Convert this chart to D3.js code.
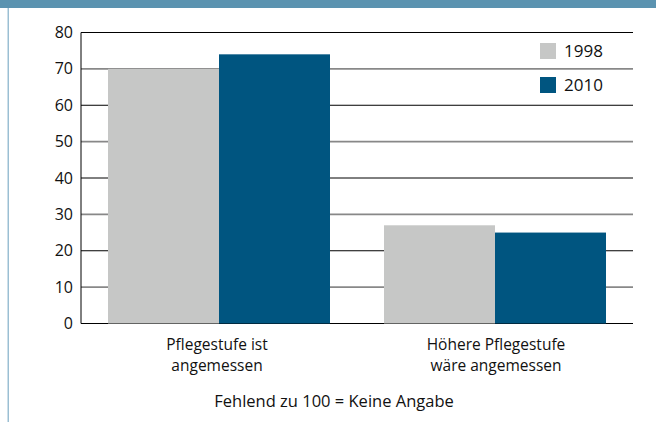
<!DOCTYPE html>
<html>
<head>
<meta charset="utf-8">
<script src="https://cdn.jsdelivr.net/npm/d3@7"></script>
<style>
  body { margin: 0; background: #fff; }
  svg { display: block; font-family: "Open Sans", "Noto Sans", sans-serif; }
</style>
</head>
<body>
<div id="chart"></div>
<script>
const categories = [["Pflegestufe ist", "angemessen"], ["Höhere Pflegestufe", "wäre angemessen"]];
const seriesNames = ["1998", "2010"];
const values1998 = [70, 27];
const values2010 = [74, 25];
const yTicks = [0, 10, 20, 30, 40, 50, 60, 70, 80];
const footnote = "Fehlend zu 100 = Keine Angabe";

const W = 656, H = 422;
const margin = { left: 81, right: 23, top: 32.5, bottom: 98.5 };
const colors = ["#c6c7c6", "#005580"];

const svg = d3.select("#chart").append("svg")
  .attr("width", W)
  .attr("height", H);

// top band and left rule
svg.append("rect").attr("x", 0).attr("y", 0).attr("width", W).attr("height", 8).attr("fill", "#5b93b0");
svg.append("rect").attr("x", 7.5).attr("y", 8).attr("width", 1.5).attr("height", H - 8).attr("fill", "#9bbfd3");

const x = d3.scaleBand()
  .domain(d3.range(categories.length))
  .range([margin.left, W - margin.right]);

const y = d3.scaleLinear()
  .domain([0, 80])
  .range([H - margin.bottom, margin.top]);

// grid lines
svg.append("g")
  .selectAll("line")
  .data(yTicks)
  .join("line")
  .attr("x1", margin.left)
  .attr("x2", W - margin.right)
  .attr("y1", d => y(d))
  .attr("y2", d => y(d))
  .attr("stroke", d => (d / 10) % 2 === 0 ? "#000" : "#888")
  .attr("stroke-width", d => (d / 10) % 2 === 0 ? 1 : 1.6);

// bars
const series = [values1998, values2010];
const barW = 111;
const groupOffset = (x.bandwidth() - barW * 2) / 2;
series.forEach((vals, si) => {
  svg.append("g")
    .selectAll("rect")
    .data(vals)
    .join("rect")
    .attr("x", (d, i) => x(i) + groupOffset + si * barW)
    .attr("width", barW)
    .attr("y", d => y(d))
    .attr("height", d => y(0) - y(d))
    .attr("fill", colors[si]);
});

// left axis line
svg.append("line")
  .attr("x1", margin.left).attr("x2", margin.left)
  .attr("y1", y(80)).attr("y2", y(0))
  .attr("stroke", "#000").attr("stroke-width", 1);

// y tick labels
svg.append("g")
  .selectAll("text")
  .data(yTicks)
  .join("text")
  .attr("x", 73)
  .attr("y", d => y(d))
  .attr("dy", "0.35em")
  .attr("text-anchor", "end")
  .attr("font-size", 16)
  .attr("fill", "#111")
  .text(d => d);

// category labels, one text per line
categories.forEach((lines, i) => {
  lines.forEach((l, j) => {
    svg.append("text")
      .attr("text-anchor", "middle")
      .attr("font-size", 15.5)
      .attr("fill", "#111")
      .attr("x", x(i) + x.bandwidth() / 2 + (i === 0 ? -2 : 1))
      .attr("y", 350 + j * 21)
      .text(l);
  });
});

// legend
seriesNames.forEach((name, i) => {
  const ly = 43 + i * 34;
  svg.append("rect").attr("x", 540).attr("y", ly).attr("width", 16).attr("height", 16).attr("fill", colors[i]);
  svg.append("text")
    .attr("x", 564)
    .attr("y", ly + 8)
    .attr("dy", "0.35em")
    .attr("font-size", 17)
    .attr("fill", "#111")
    .text(name);
});

// footnote
svg.append("text")
  .attr("x", 334)
  .attr("y", 407)
  .attr("text-anchor", "middle")
  .attr("font-size", 16.5)
  .attr("fill", "#111")
  .text(footnote);
</script>
</body>
</html>
